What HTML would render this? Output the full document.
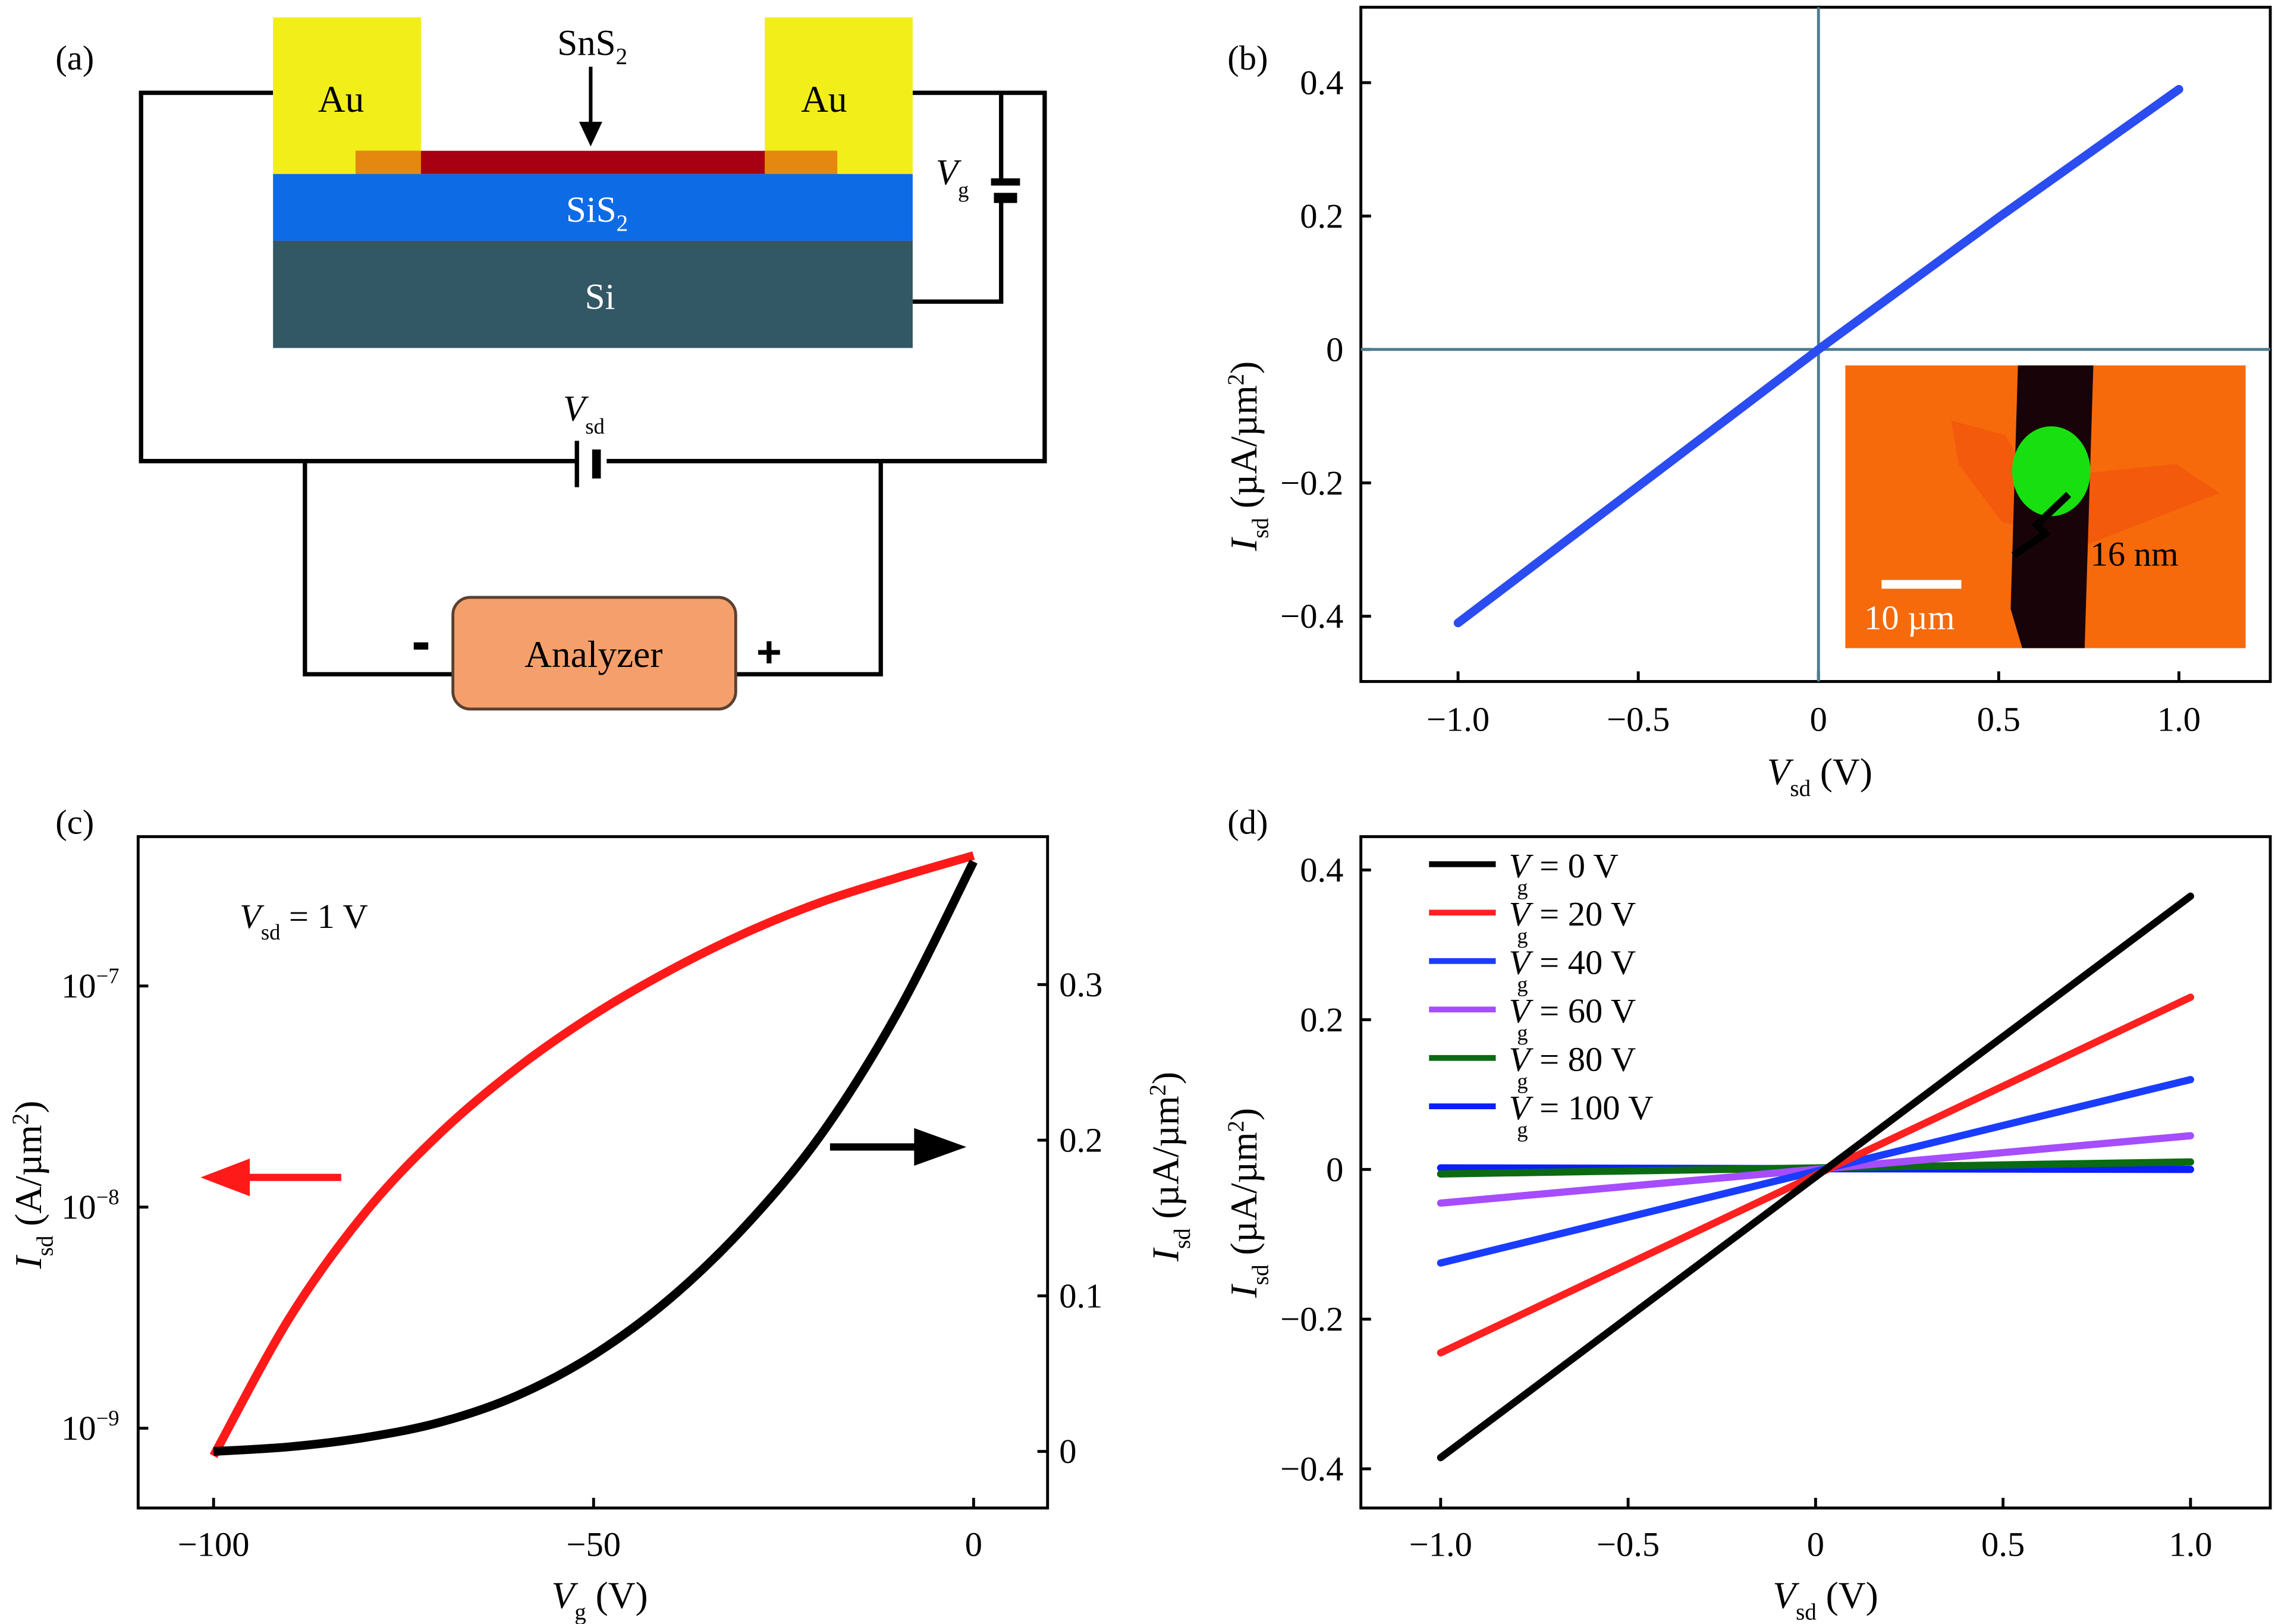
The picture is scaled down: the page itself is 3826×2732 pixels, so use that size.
<!DOCTYPE html>
<html><head><meta charset="utf-8"><style>
html,body{margin:0;padding:0;background:#fff;}
svg{display:block;}
text{font-family:"Liberation Serif",serif;fill:#000;}
</style></head><body>
<svg id="fig" width="3826" height="2732" viewBox="0 0 1568 1120" xmlns="http://www.w3.org/2000/svg">
<g>
<text x="38" y="48" font-size="24">(a)</text>
<g fill="none" stroke="#000" stroke-width="3">
<polyline points="188,64 97,64 97,318 396,318"/>
<polyline points="629,64 720,64 720,318 418,318"/>
<polyline points="690,64 690,125"/>
<polyline points="690,138 690,208 629,208"/>
<polyline points="210,318 210,465 312,465"/>
<polyline points="507,465 607,465 607,318"/>
</g>
<rect x="683" y="123" width="20" height="5" fill="#000"/>
<rect x="685" y="133" width="16" height="7" fill="#000"/>
<rect x="396" y="304" width="3" height="32" fill="#000"/>
<rect x="408" y="310" width="6" height="20" fill="#000"/>
<rect x="188" y="12" width="102" height="108" fill="#f2ee1a"/>
<rect x="527" y="12" width="102" height="108" fill="#f2ee1a"/>
<rect x="245" y="104" width="332" height="16" fill="#a80012"/>
<rect x="245" y="104" width="45" height="16" fill="#f0a010" opacity="0.85"/>
<rect x="527" y="104" width="50" height="16" fill="#f0a010" opacity="0.85"/>
<rect x="188" y="120" width="441" height="46" fill="#0e6be6"/>
<rect x="188" y="166" width="441" height="74" fill="#325765"/>
<text x="219" y="77" font-size="26">Au</text>
<text x="552" y="77" font-size="26">Au</text>
<text x="384" y="38" font-size="25">SnS<tspan font-size="16" dy="6">2</tspan></text>
<line x1="407" y1="46" x2="407" y2="92" stroke="#000" stroke-width="2.5"/>
<polygon points="399,84 415,84 407,101" fill="#000"/>
<text x="390" y="153" font-size="25" style="fill:#fff">SiS<tspan font-size="16" dy="6">2</tspan></text>
<text x="403" y="213" font-size="25" style="fill:#fff">Si</text>
<text x="645" y="127" font-size="25" font-style="italic">V<tspan font-size="15" font-style="normal" dy="9">g</tspan></text>
<text x="388" y="290" font-size="25" font-style="italic">V<tspan font-size="15" font-style="normal" dy="9">sd</tspan></text>
<rect x="312" y="412" width="195" height="77" rx="12" fill="#f5a06c" stroke="#5a4030" stroke-width="2"/>
<text x="409" y="460" font-size="26" text-anchor="middle">Analyzer</text>
<rect x="285" y="443" width="10" height="5" fill="#000"/>
<text x="530" y="460" font-size="30" font-weight="bold" text-anchor="middle" style="font-family:'Liberation Sans',sans-serif">+</text>
</g>

<g id="pb">
<text x="846" y="48" font-size="24">(b)</text>
</g>
<g id="pc">
<text x="38" y="575" font-size="24">(c)</text>
</g>
<g id="pd">
<text x="846" y="575" font-size="24">(d)</text>
</g>
</svg>
<script>
const NS="http://www.w3.org/2000/svg";
// ---- data ----
const bVsd=[-1.0,-0.5,0,0.5,1.0];
const bIsd=[-0.41,-0.205,0,0.198,0.39];
const bXTicks=[-1.0,-0.5,0,0.5,1.0];
const bXTickLabels=["\u22121.0","\u22120.5","0","0.5","1.0"];
const bYTicks=[-0.4,-0.2,0,0.2,0.4];
const bYTickLabels=["\u22120.4","\u22120.2","0","0.2","0.4"];

const cVg=[-100,-90,-80,-70,-60,-50,-40,-30,-20,-10,0];
const cIsdLog=[7.5e-10,3.16e-9,9.5e-9,2.19e-8,4.27e-8,7.41e-8,1.175e-7,1.74e-7,2.4e-7,3.09e-7,3.89e-7];
const cIsdLin=[0,0.003,0.009,0.019,0.036,0.062,0.098,0.145,0.204,0.282,0.379];
const cXTicks=[-100,-50,0];
const cXTickLabels=["\u2212100","\u221250","0"];
const cLogTicks=[-9,-8,-7];
const cLinTicks=[0,0.1,0.2,0.3];
const cLinTickLabels=["0","0.1","0.2","0.3"];

const dVsd=[-1.0,1.0];
const dLabels=["0 V","20 V","40 V","60 V","80 V","100 V"];
const dColors=["#000000","#ff2020","#1a3cff","#a64dff","#0b6a12","#0a1eff"];
const dIsdStart=[-0.385,-0.245,-0.125,-0.045,-0.006,0.002];
const dIsdEnd=[0.365,0.23,0.12,0.045,0.01,0.0];
const dXTicks=[-1.0,-0.5,0,0.5,1.0];
const dXTickLabels=["\u22121.0","\u22120.5","0","0.5","1.0"];
const dYTicks=[-0.4,-0.2,0,0.2,0.4];
const dYTickLabels=["\u22120.4","\u22120.2","0","0.2","0.4"];

const FS=24;
function mk(parent,tag,attrs){const e=document.createElementNS(NS,tag);for(const k in attrs)e.setAttribute(k,attrs[k]);parent.appendChild(e);return e;}
function txt(parent,x,y,s,size,anchor){const t=mk(parent,"text",{x:x,y:y,"font-size":size,"text-anchor":anchor||"start"});t.textContent=s;return t;}
function path(pts){return pts.map((p,i)=>(i?"L":"M")+p[0].toFixed(2)+","+p[1].toFixed(2)).join(" ");}
function smooth(p){let d="M"+p[0][0].toFixed(2)+","+p[0][1].toFixed(2);
 for(let i=0;i<p.length-1;i++){const p0=p[i-1]||p[i],p1=p[i],p2=p[i+1],p3=p[i+2]||p[i+1];
  const c1=[p1[0]+(p2[0]-p0[0])/6,p1[1]+(p2[1]-p0[1])/6],c2=[p2[0]-(p3[0]-p1[0])/6,p2[1]-(p3[1]-p1[1])/6];
  d+=" C"+c1[0].toFixed(2)+","+c1[1].toFixed(2)+" "+c2[0].toFixed(2)+","+c2[1].toFixed(2)+" "+p2[0].toFixed(2)+","+p2[1].toFixed(2);}
 return d;}
function lin(d0,d1,r0,r1){return v=>r0+(v-d0)*(r1-r0)/(d1-d0);}

// ---- panel b ----
(function(){
const g=document.getElementById("pb");
const X=lin(-1,1,1005,1502), Y=lin(-0.4,0.4,425,57);
const frame=mk(g,"rect",{x:938,y:5,width:627,height:465,fill:"none",stroke:"#000","stroke-width":2});


bXTicks.forEach((v,i)=>{mk(g,"line",{x1:X(v),x2:X(v),y1:470,y2:463,stroke:"#000","stroke-width":2});
 const t=txt(g,X(v),504,bXTickLabels[i],FS,"middle");
 
 });
bYTicks.forEach((v,i)=>{mk(g,"line",{x1:938,x2:945,y1:Y(v),y2:Y(v),stroke:"#000","stroke-width":2});
 const t=txt(g,926,Y(v)+8,bYTickLabels[i],FS,"end");
 
 });
const hx=mk(g,"line",{x1:938,x2:1565,y1:Y(0),y2:Y(0),stroke:"#4c7c8c","stroke-width":2});


const vx=mk(g,"line",{x1:X(0),x2:X(0),y1:5,y2:470,stroke:"#4c7c8c","stroke-width":2});


const l=mk(g,"path",{d:path(bVsd.map((v,i)=>[X(v),Y(bIsd[i])])),fill:"none",stroke:"#2a4cf0","stroke-width":6,"stroke-linecap":"round"});


const ins=mk(g,"g",{});


mk(ins,"rect",{x:1272,y:252,width:276,height:195,fill:"#f66a0c"});
mk(ins,"polygon",{points:"1345,290 1382,300 1400,330 1500,320 1530,340 1440,375 1380,360 1350,320",fill:"#f04a0a",opacity:"0.5"});
mk(ins,"polygon",{points:"1391,252 1443,252 1437,447 1394,447 1386,420",fill:"#180408"});
mk(ins,"ellipse",{cx:1414,cy:325,rx:27,ry:31,fill:"#18e010"});
mk(ins,"polyline",{points:"1426,341 1404,362 1410,368 1388,383",fill:"none",stroke:"#000","stroke-width":5});
mk(ins,"rect",{x:1297,y:400,width:55,height:6,fill:"#fff"});
const it1=txt(ins,1285,434,"10 \u00b5m",FS); it1.style.fill="#fff";
txt(ins,1441,390,"16 nm",FS);
const xt=txt(g,1218,541,"",26); xt.innerHTML='<tspan font-style="italic">V</tspan><tspan font-size="16" dy="8">sd</tspan><tspan dy="-8"> (V)</tspan>';


const yt=txt(g,0,0,"",26); yt.setAttribute("transform","translate(866,380) rotate(-90)");
yt.innerHTML='<tspan font-style="italic">I</tspan><tspan font-size="16" dy="8">sd</tspan><tspan dy="-8"> (\u00b5A/\u00b5m</tspan><tspan font-size="16" dy="-9">2</tspan><tspan dy="9">)</tspan>';


})();

// ---- panel c ----
(function(){
const g=document.getElementById("pc");
const X=lin(-100,0,147,671), YL=lin(-9,-7,985,680), YR=lin(0,0.3,1001,679);
const frame=mk(g,"rect",{x:95,y:577,width:627,height:463,fill:"none",stroke:"#000","stroke-width":2});


cXTicks.forEach((v,i)=>{mk(g,"line",{x1:X(v),x2:X(v),y1:1040,y2:1033,stroke:"#000","stroke-width":2});
 const t=txt(g,X(v),1073,cXTickLabels[i],FS,"middle");
 
 });
cLogTicks.forEach(v=>{mk(g,"line",{x1:95,x2:102,y1:YL(v),y2:YL(v),stroke:"#000","stroke-width":2});
 const t=txt(g,42,YL(v)+8,"",FS); t.innerHTML='10<tspan font-size="15" dy="-10">\u2212'+(-v)+'</tspan>';
 
 });
cLinTicks.forEach((v,i)=>{mk(g,"line",{x1:715,x2:722,y1:YR(v),y2:YR(v),stroke:"#000","stroke-width":2});
 const t=txt(g,730,YR(v)+8,cLinTickLabels[i],FS);
 
 });
const r=mk(g,"path",{d:smooth(cVg.map((v,i)=>[X(v),YL(Math.log10(cIsdLog[i]))])),fill:"none",stroke:"#ff1a1a","stroke-width":6,"stroke-linejoin":"round"});


const b=mk(g,"path",{d:smooth(cVg.map((v,i)=>[X(v),YR(cIsdLin[i])])),fill:"none",stroke:"#000","stroke-width":6,"stroke-linejoin":"round"});


const ra=mk(g,"g",{});  
mk(ra,"line",{x1:235,x2:165,y1:812,y2:812,stroke:"#ff1a1a","stroke-width":5});
mk(ra,"polygon",{points:"138,812 172,799 172,825",fill:"#ff1a1a"});
const ba=mk(g,"g",{});  
mk(ba,"line",{x1:572,x2:635,y1:791,y2:791,stroke:"#000","stroke-width":5});
mk(ba,"polygon",{points:"666,791 630,778 630,804",fill:"#000"});
const ann=txt(g,165,640,"",FS); ann.innerHTML='<tspan font-style="italic">V</tspan><tspan font-size="15" dy="8">sd</tspan><tspan dy="-8"> = 1 V</tspan>';


const xt=txt(g,380,1109,"",26); xt.innerHTML='<tspan font-style="italic">V</tspan><tspan font-size="16" dy="8">g</tspan><tspan dy="-8"> (V)</tspan>';


const yl=txt(g,0,0,"",26); yl.setAttribute("transform","translate(28,875) rotate(-90)");
yl.innerHTML='<tspan font-style="italic">I</tspan><tspan font-size="16" dy="8">sd</tspan><tspan dy="-8"> (A/\u00b5m</tspan><tspan font-size="16" dy="-9">2</tspan><tspan dy="9">)</tspan>';


const yr=txt(g,0,0,"",26); yr.setAttribute("transform","translate(812,870) rotate(-90)");
yr.innerHTML='<tspan font-style="italic">I</tspan><tspan font-size="16" dy="8">sd</tspan><tspan dy="-8"> (\u00b5A/\u00b5m</tspan><tspan font-size="16" dy="-9">2</tspan><tspan dy="9">)</tspan>';


})();

// ---- panel d ----
(function(){
const g=document.getElementById("pd");
const X=lin(-1,1,993,1510), Y=lin(-0.4,0.4,1013,600);
const frame=mk(g,"rect",{x:938,y:577,width:627,height:463,fill:"none",stroke:"#000","stroke-width":2});


dXTicks.forEach((v,i)=>{mk(g,"line",{x1:X(v),x2:X(v),y1:1040,y2:1033,stroke:"#000","stroke-width":2});
 const t=txt(g,X(v),1073,dXTickLabels[i],FS,"middle");
 
 });
dYTicks.forEach((v,i)=>{mk(g,"line",{x1:938,x2:945,y1:Y(v),y2:Y(v),stroke:"#000","stroke-width":2});
 const t=txt(g,926,Y(v)+8,dYTickLabels[i],FS,"end");
 
 });
for(let i=dLabels.length-1;i>=0;i--){
 const l=mk(g,"path",{d:path([[X(dVsd[0]),Y(dIsdStart[i])],[X(dVsd[1]),Y(dIsdEnd[i])]]),fill:"none",stroke:dColors[i],"stroke-width":5,"stroke-linecap":"round"});
 
 
}
dLabels.forEach((s,i)=>{
 const y=596+i*33.4;
 const le=mk(g,"g",{});
 
 
 mk(le,"line",{x1:985,x2:1031,y1:y,y2:y,stroke:dColors[i],"stroke-width":4});
 const t=txt(le,1040,y+9,"",FS); t.innerHTML='<tspan font-style="italic">V</tspan><tspan font-size="15" dy="12" dx="-9">g</tspan><tspan dy="-12" dx="2"> = '+s+'</tspan>';
});
const xt=txt(g,1222,1109,"",26); xt.innerHTML='<tspan font-style="italic">V</tspan><tspan font-size="16" dy="8">sd</tspan><tspan dy="-8"> (V)</tspan>';


const yt=txt(g,0,0,"",26); yt.setAttribute("transform","translate(866,895) rotate(-90)");
yt.innerHTML='<tspan font-style="italic">I</tspan><tspan font-size="16" dy="8">sd</tspan><tspan dy="-8"> (\u00b5A/\u00b5m</tspan><tspan font-size="16" dy="-9">2</tspan><tspan dy="9">)</tspan>';


})();
</script>
</body></html>
